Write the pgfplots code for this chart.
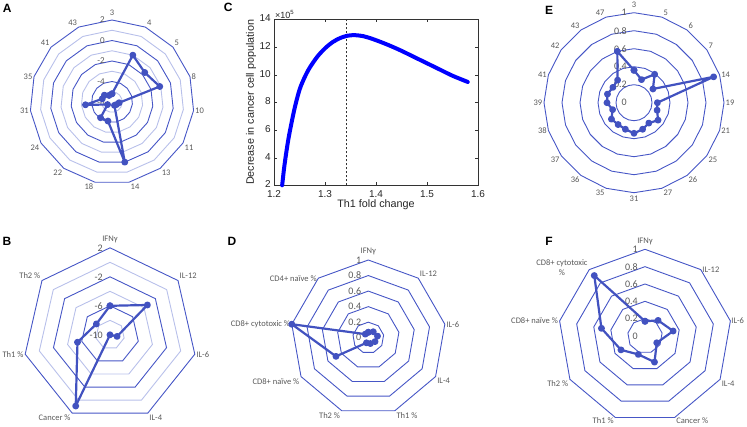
\documentclass[border=0pt]{standalone}
\usepackage{fontspec}
\setmainfont{Carlito}
\newfontfamily\arial{Liberation Sans}
\usepackage{pgfplots}
\usepgfplotslibrary{polar}
\pgfplotsset{compat=1.18}
\usepackage{pgfplotstable}

\definecolor{ringc}{HTML}{4656C6}
\definecolor{ringlt}{HTML}{B8C0EA}
\definecolor{datblue}{HTML}{4252C0}
\definecolor{txt}{HTML}{595959}

\pgfplotsset{
  radar/.style={scale only axis, hide axis, clip=false, xmin=0, xmax=360, ymin=0, anchor=origin},
  major ring/.style={ringc, line width=0.9pt, line join=miter},
  minor ring/.style={ringlt, line width=0.9pt, line join=miter},
  radar data/.style={datblue, line width=2.2pt, mark=*, mark size=2.3pt, line join=round},
}
\tikzset{
  cat/.style={font=\fontsize{8.5}{9.5}\selectfont, text=txt, inner sep=1.5pt},
  top/.style={cat, anchor=south, yshift=3pt},
  val/.style={text=txt, anchor=east, inner sep=1pt, xshift=-6pt},
  panel/.style={font=\arial\bfseries\fontsize{12}{12}\selectfont},
}

% A: 15 categories, value axis -6 .. 2
\pgfplotstableread{
ang val
90  -5.2
66  -1.0
42  -1.7
18  -1.1
354 -5.3
330 -5.5
306 -5.6
282  0.0
258 -4.1
234 -4.1
210 -5.5
186 -3.4
162 -5.0
138 -5.0
114 -5.3
90  -5.2
}\tA

% B: 7 categories, value axis -10 .. 2
\pgfplotstableread{
ang val
90     -6.0
38.57  -3.4
347.14 -9.0
295.71 -10.0
244.29  0.9
192.86 -5.4
141.43 -7.6
90     -6.0
}\tB

% D: 9 categories
\pgfplotstableread{
ang val
90  0.07
50  0.10
10  0.12
330 0.10
290 0.08
250 0.07
210 0.48
170 1.00
130 0.06
90  0.07
}\tD

% E: 20 categories
\pgfplotstableread{
ang val
90  0.36
72  0.27
54  0.39
36  0.26
18  0.93
0   0.26
342 0.27
324 0.33
306 0.28
288 0.31
270 0.34
252 0.31
234 0.30
216 0.31
198 0.25
180 0.30
162 0.31
144 0.29
126 0.31
108 0.60
90  0.36
}\tE

% F: 9 categories
\pgfplotstableread{
ang val
90  0.17
50  0.235
10  0.33
330 0.157
290 0.32
250 0.226
210 0.32
170 0.51
130 0.91
90  0.17
}\tF

\begin{document}
\begin{tikzpicture}
\path[use as bounding box] (0pt,0pt) rectangle (747pt,426pt);

\node[panel] at (7.3pt,417.7pt) {A};
\node[panel] at (7pt,184.3pt) {B};
\node[panel] at (228.3pt,418.7pt) {C};
\node[panel] at (232pt,185pt) {D};
\node[panel] at (549pt,416pt) {E};
\node[panel] at (549pt,185pt) {F};

% ---------- A
\begin{polaraxis}[radar, at={(112pt,324pt)}, width=164pt, height=164pt, ymax=8]
\pgfplotsinvokeforeach{1,3,5,7}{\addplot[minor ring] table[x=ang, y expr=#1]{\tA};}
\pgfplotsinvokeforeach{2,4,6,8}{\addplot[major ring] table[x=ang, y expr=#1]{\tA};}
\node[val,font=\fontsize{9}{9}\selectfont] at (axis cs:90,8) {2};
\node[val,font=\fontsize{9}{9}\selectfont] at (axis cs:90,6) {0};
\node[val,font=\fontsize{9}{9}\selectfont] at (axis cs:90,4) {-2};
\node[val,font=\fontsize{9}{9}\selectfont] at (axis cs:90,2) {-4};
\node[val,font=\fontsize{9}{9}\selectfont] at (axis cs:90,0) {-6};
\addplot[radar data] table[x=ang, y expr=\thisrow{val}+6]{\tA};
\node[top] at (axis cs:90,8) {3};
\node[cat,anchor=south west] at (axis cs:66,8) {4};
\node[cat,anchor=south west] at (axis cs:42,8) {5};
\node[cat,anchor=west] at (axis cs:18,8) {8};
\node[cat,anchor=west] at (axis cs:354,8) {10};
\node[cat,anchor=north west] at (axis cs:330,8) {11};
\node[cat,anchor=north west] at (axis cs:306,8) {13};
\node[cat,anchor=north west] at (axis cs:282,8) {14};
\node[cat,anchor=north east] at (axis cs:258,8) {18};
\node[cat,anchor=north east] at (axis cs:234,8) {22};
\node[cat,anchor=north east] at (axis cs:210,8) {24};
\node[cat,anchor=east] at (axis cs:186,8) {31};
\node[cat,anchor=east] at (axis cs:162,8) {35};
\node[cat,anchor=south east] at (axis cs:138,8) {41};
\node[cat,anchor=south east] at (axis cs:114,8) {43};
\end{polaraxis}

% ---------- B
\begin{polaraxis}[radar, at={(110pt,91.2pt)}, width=174pt, height=174pt, ymax=12]
\pgfplotsinvokeforeach{2,6,10}{\addplot[minor ring] table[x=ang, y expr=#1]{\tB};}
\pgfplotsinvokeforeach{4,8,12}{\addplot[major ring] table[x=ang, y expr=#1]{\tB};}
\node[val,font=\fontsize{10}{10}\selectfont] at (axis cs:90,12) {2};
\node[val,font=\fontsize{10}{10}\selectfont] at (axis cs:90,8) {-2};
\node[val,font=\fontsize{10}{10}\selectfont] at (axis cs:90,4) {-6};
\node[val,font=\fontsize{10}{10}\selectfont] at (axis cs:90,0) {-10};
\addplot[radar data] table[x=ang, y expr=\thisrow{val}+10]{\tB};
\node[top] at (axis cs:90,12) {IFNγ};
\node[cat,anchor=south west] at (axis cs:38.57,12) {IL-12};
\node[cat,anchor=west] at (axis cs:347.14,12) {IL-6};
\node[cat,anchor=north west] at (axis cs:295.71,12) {IL-4};
\node[cat,anchor=north east] at (axis cs:244.29,12) {Cancer \%};
\node[cat,anchor=east] at (axis cs:192.86,12) {Th1 \%};
\node[cat,anchor=south east] at (axis cs:141.43,12) {Th2 \%};
\end{polaraxis}

% ---------- C
\begin{axis}[at={(274pt,240.7pt)}, anchor=south west, scale only axis,
  width=204pt, height=166pt,
  xmin=1.2, xmax=1.6, ymin=2, ymax=14,
  xtick={1.2,1.3,1.4,1.5,1.6}, ytick={2,4,6,8,10,12,14},
  xticklabel style={/pgf/number format/fixed, /pgf/number format/precision=1, /pgf/number format/fixed zerofill, inner sep=0pt, yshift=-5pt},
  yticklabel style={inner sep=0pt, xshift=-3pt, yshift=1pt},
  /pgf/number format/assume math mode=true,
  ticklabel style={font=\arial\fontsize{10}{11}\selectfont, text=black!85},
  tick align=inside, tick pos=both, major tick length=3pt,
  axis line style={black!80, line width=0.5pt}, tick style={black!80},
  xlabel={Th1 fold change}, ylabel={Decrease in cancer cell population},
  xlabel style={yshift=1pt},
  label style={font=\arial\fontsize{10.8}{12}\selectfont, text=black!85},
  clip=false]
\addplot[black!80, line width=0.6pt, dash pattern=on 2pt off 2pt] coordinates {(1.341,2) (1.341,14)};
\addplot[blue, line width=4pt, smooth, line cap=round] coordinates {
(1.2160,2.0) (1.2200,3.3) (1.2250,4.6) (1.2300,5.7) (1.2400,7.5)
(1.2500,8.9) (1.2600,9.8) (1.2700,10.5) (1.2850,11.3) (1.3000,11.9)
(1.3150,12.35) (1.3300,12.65) (1.3450,12.82) (1.3600,12.85) (1.3750,12.78)
(1.3900,12.62) (1.4100,12.35) (1.4300,12.05) (1.4500,11.72) (1.4750,11.27)
(1.5000,10.82) (1.5250,10.37) (1.5500,9.92) (1.5800,9.47)};
\node[anchor=south west, inner sep=1pt, font=\arial\fontsize{9}{10}\selectfont, text=black!85] at (rel axis cs:0,1) {×10\textsuperscript{5}};
\end{axis}

% ---------- D
\begin{polaraxis}[radar, at={(368.3pt,88.3pt)}, width=155.4pt, height=155.4pt, ymax=1]
\pgfplotsinvokeforeach{0.2,0.4,0.6,0.8,1}{\addplot[major ring] table[x=ang, y expr=#1]{\tD};}
\node[val,font=\fontsize{10}{10}\selectfont] at (axis cs:90,1) {1};
\node[val,font=\fontsize{10}{10}\selectfont] at (axis cs:90,0.8) {0.8};
\node[val,font=\fontsize{10}{10}\selectfont] at (axis cs:90,0.6) {0.6};
\node[val,font=\fontsize{10}{10}\selectfont] at (axis cs:90,0.4) {0.4};
\node[val,font=\fontsize{10}{10}\selectfont] at (axis cs:90,0.2) {0.2};
\node[val,font=\fontsize{10}{10}\selectfont] at (axis cs:90,0) {0};
\addplot[radar data] table[x=ang, y=val]{\tD};
\node[top] at (axis cs:90,1) {IFNγ};
\node[cat,anchor=south west] at (axis cs:50,1) {IL-12};
\node[cat,anchor=west] at (axis cs:10,1) {IL-6};
\node[cat,anchor=north west] at (axis cs:330,1) {IL-4};
\node[cat,anchor=north west] at (axis cs:290,1) {Th1 \%};
\node[cat,anchor=north east] at (axis cs:250,1) {Th2 \%};
\node[cat,anchor=north east] at (axis cs:210,1) {CD8+ naïve \%};
\node[cat,anchor=east] at (axis cs:170,1) {CD8+ cytotoxic \%};
\node[cat,anchor=east] at (axis cs:130,1) {CD4+ naïve \%};
\end{polaraxis}

% ---------- E
\begin{polaraxis}[radar, at={(634pt,323.3pt)}, width=180pt, height=180pt, ymax=1]
\pgfplotsinvokeforeach{0.2,0.4,0.6,0.8,1}{\addplot[major ring] table[x=ang, y expr=#1]{\tE};}
\node[val,font=\fontsize{10}{10}\selectfont] at (axis cs:90,1) {1};
\node[val,font=\fontsize{10}{10}\selectfont] at (axis cs:90,0.8) {0.8};
\node[val,font=\fontsize{10}{10}\selectfont] at (axis cs:90,0.6) {0.6};
\node[val,font=\fontsize{10}{10}\selectfont] at (axis cs:90,0.4) {0.4};
\node[val,font=\fontsize{10}{10}\selectfont] at (axis cs:90,0.2) {0.2};
\node[val,font=\fontsize{10}{10}\selectfont] at (axis cs:90,0) {0};
\addplot[radar data] table[x=ang, y=val]{\tE};
\node[top] at (axis cs:90,1) {3};
\node[cat,anchor=south west] at (axis cs:72,1) {5};
\node[cat,anchor=south west] at (axis cs:54,1) {6};
\node[cat,anchor=south west] at (axis cs:36,1) {7};
\node[cat,anchor=west] at (axis cs:18,1) {14};
\node[cat,anchor=west] at (axis cs:0,1) {19};
\node[cat,anchor=west] at (axis cs:342,1) {21};
\node[cat,anchor=north west] at (axis cs:324,1) {25};
\node[cat,anchor=north west] at (axis cs:306,1) {26};
\node[cat,anchor=north west] at (axis cs:288,1) {27};
\node[cat,anchor=north,yshift=-2pt] at (axis cs:270,1) {31};
\node[cat,anchor=north east] at (axis cs:252,1) {35};
\node[cat,anchor=north east] at (axis cs:234,1) {36};
\node[cat,anchor=north east] at (axis cs:216,1) {37};
\node[cat,anchor=east] at (axis cs:198,1) {38};
\node[cat,anchor=east] at (axis cs:180,1) {39};
\node[cat,anchor=east] at (axis cs:162,1) {41};
\node[cat,anchor=south east] at (axis cs:144,1) {42};
\node[cat,anchor=south east] at (axis cs:126,1) {43};
\node[cat,anchor=south east] at (axis cs:108,1) {47};
\end{polaraxis}

% ---------- F
\begin{polaraxis}[radar, at={(645pt,90pt)}, width=173.4pt, height=173.4pt, ymax=1]
\pgfplotsinvokeforeach{0.2,0.4,0.6,0.8,1}{\addplot[major ring] table[x=ang, y expr=#1]{\tF};}
\node[val,font=\fontsize{10}{10}\selectfont] at (axis cs:90,1) {1};
\node[val,font=\fontsize{10}{10}\selectfont] at (axis cs:90,0.8) {0.8};
\node[val,font=\fontsize{10}{10}\selectfont] at (axis cs:90,0.6) {0.6};
\node[val,font=\fontsize{10}{10}\selectfont] at (axis cs:90,0.4) {0.4};
\node[val,font=\fontsize{10}{10}\selectfont] at (axis cs:90,0.2) {0.2};
\node[val,font=\fontsize{10}{10}\selectfont] at (axis cs:90,0) {0};
\addplot[radar data] table[x=ang, y=val]{\tF};
\node[top] at (axis cs:90,1) {IFNγ};
\node[cat,anchor=west] at (axis cs:50,1) {IL-12};
\node[cat,anchor=west,inner sep=0.8pt] at (axis cs:10,1) {IL-6};
\node[cat,anchor=north west] at (axis cs:330,1) {IL-4};
\node[cat,anchor=west,yshift=-3pt] at (axis cs:290,1) {Cancer \%};
\node[cat,anchor=east,yshift=-3pt] at (axis cs:250,1) {Th1 \%};
\node[cat,anchor=north east] at (axis cs:210,1) {Th2 \%};
\node[cat,anchor=east] at (axis cs:170,1) {CD8+ naïve \%};
\node[cat,anchor=east,align=center,yshift=2pt] at (axis cs:130,1) {CD8+ cytotoxic\\\%};
\end{polaraxis}
\end{tikzpicture}
\end{document}
